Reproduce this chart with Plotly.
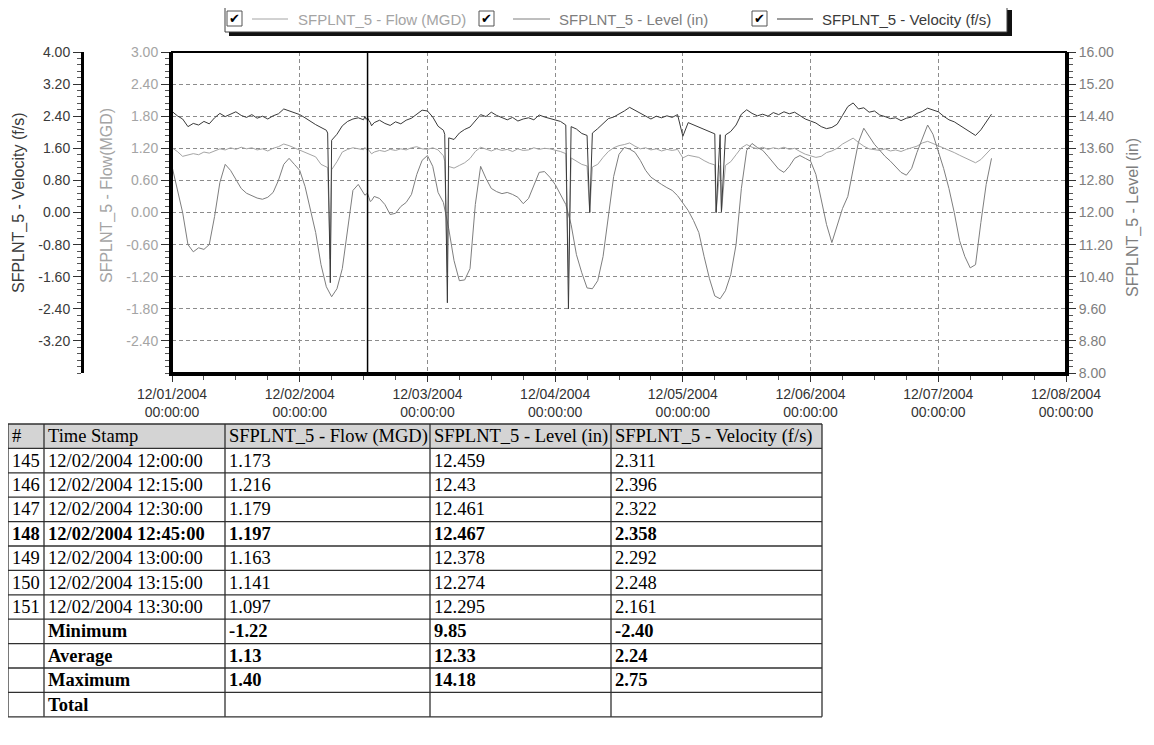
import pandas as pd
import plotly.graph_objects as go

# ---------------- data ----------------
series_start = "2004-12-01 00:00"

velocity_hourly = [
    2.52, 2.41, 2.33, 2.14, 2.22, 2.18, 2.27, 2.21, 2.36, 2.47, 2.39, 2.45, 2.51, 2.42, 2.37, 2.44, 2.35, 2.40, 2.33, 2.41, 2.46, 2.58, 2.53, 2.49,
    2.44, 2.36, 2.27, 2.19, 2.12, 2.05, 1.80, 1.95, 2.16, 2.27, 2.33, 2.36, 2.31, 2.29, 2.24, 2.30, 2.22, 2.17, 2.26, 2.21, 2.30, 2.35, 2.44, 2.55,
    2.53, 2.38, 2.15, 2.05, 1.86, 1.82, 1.98, 2.07, 2.13, 2.30, 2.44, 2.39, 2.50, 2.42, 2.36, 2.31, 2.37, 2.28, 2.33, 2.36, 2.31, 2.43, 2.38, 2.34,
    2.31, 2.27, 2.18, 2.14, 2.08, 1.97, 1.92, 1.98, 2.09, 2.22, 2.34, 2.38, 2.45, 2.53, 2.62, 2.55, 2.46, 2.39, 2.33, 2.40, 2.36, 2.41, 2.37, 2.44,
    1.90, 2.24, 2.18, 2.12, 2.06, 2.00, 1.96, 1.94, 1.93, 2.02, 2.18, 2.45, 2.56, 2.47, 2.41, 2.45, 2.40, 2.49, 2.44, 2.51, 2.46, 2.50, 2.41, 2.33,
    2.28, 2.23, 2.14, 2.09, 2.12, 2.20, 2.42, 2.64, 2.73, 2.58, 2.61, 2.50, 2.53, 2.43, 2.39, 2.34, 2.36, 2.29, 2.35, 2.38, 2.47, 2.52, 2.60, 2.56,
    2.51, 2.40, 2.31, 2.26, 2.17, 2.09, 2.00, 1.92, 2.06, 2.25, 2.45,
]

flow_hourly = [
    1.21, 1.14, 1.05, 1.07, 1.10, 1.08, 1.13, 1.11, 1.15, 1.19, 1.17, 1.21, 1.18, 1.22, 1.19, 1.21, 1.17, 1.19, 1.15, 1.20, 1.23, 1.28, 1.25, 1.21,
    1.17, 1.13, 1.09, 1.04, 0.90, 0.86, 0.80, 0.95, 1.13, 1.18, 1.21, 1.19, 1.173, 1.163, 1.13, 1.16, 1.14, 1.18, 1.16, 1.19, 1.17, 1.21, 1.23, 1.19,
    1.18, 1.21, 1.17, 1.06, 0.86, 0.83, 0.88, 0.93, 1.01, 1.14, 1.22, 1.18, 1.15, 1.19, 1.16, 1.18, 1.14, 1.19, 1.16, 1.17, 1.21, 1.18, 1.20, 1.19,
    1.17, 1.14, 1.10, 1.02, 0.96, 0.90, 0.87, 0.85, 0.90, 1.03, 1.14, 1.21, 1.25, 1.27, 1.30, 1.24, 1.19, 1.21, 1.17, 1.19, 1.15, 1.18, 1.16, 1.18,
    1.02, 1.07, 1.05, 1.03, 0.97, 0.92, 0.89, 0.88, 0.88, 0.95, 1.08, 1.21, 1.27, 1.22, 1.19, 1.22, 1.18, 1.21, 1.19, 1.22, 1.18, 1.20, 1.14, 1.09,
    1.06, 1.03, 1.05, 1.12, 1.15, 1.20, 1.28, 1.33, 1.39, 1.31, 1.24, 1.19, 1.18, 1.16, 1.19, 1.15, 1.17, 1.14, 1.18, 1.21, 1.24, 1.30, 1.33, 1.29,
    1.25, 1.20, 1.16, 1.12, 1.07, 1.02, 0.97, 0.93, 0.99, 1.10, 1.20,
]

level_hourly = [
    13.15, 12.60, 12.00, 11.20, 11.02, 11.12, 11.08, 11.20, 11.90, 12.75, 13.20, 13.05, 12.82, 12.60, 12.48, 12.42, 12.36, 12.33, 12.38, 12.50, 12.80, 13.20, 13.35, 13.20,
    13.05, 12.65, 12.05, 11.50, 10.70, 10.15, 9.90, 10.10, 10.60, 11.60, 12.55, 12.70, 12.459, 12.378, 12.40, 12.35, 12.20, 11.95, 11.98, 12.15, 12.25, 12.45, 12.95, 13.30,
    13.42, 13.15, 12.50, 12.25, 11.60, 10.80, 10.30, 10.32, 10.60, 12.20, 13.15, 12.85, 12.60, 12.52, 12.47, 12.50, 12.45, 12.38, 12.22, 12.35, 12.70, 13.00, 13.02, 12.88,
    12.70, 12.45, 12.20, 11.70, 10.95, 10.50, 10.12, 10.10, 10.30, 10.90, 11.90, 12.90, 13.45, 13.62, 13.58, 13.50, 13.30, 13.05, 12.88, 12.78, 12.70, 12.62, 12.55, 12.42,
    12.25, 12.05, 11.80, 11.50, 10.90, 10.35, 9.92, 9.85, 10.05, 10.45, 11.20, 12.60, 13.55, 13.72, 13.62, 13.55, 13.40, 13.25, 13.08, 13.00, 13.15, 13.35, 13.42, 13.35,
    13.28, 12.95, 12.30, 11.70, 11.25, 11.70, 12.10, 12.40, 13.10, 13.75, 14.10, 13.90, 13.70, 13.55, 13.40, 13.28, 13.15, 13.00, 12.93, 13.10, 13.50, 13.85, 14.18, 13.95,
    13.55, 13.10, 12.60, 12.00, 11.30, 10.90, 10.62, 10.70, 11.75, 12.70, 13.35,
]

# short sensor drop-outs (15-minute samples)
event_times = ["2004-12-02 05:15", "2004-12-02 05:30", "2004-12-02 05:45",
               "2004-12-03 03:15", "2004-12-03 03:30", "2004-12-03 03:45",
               "2004-12-04 02:15", "2004-12-04 02:30",
               "2004-12-04 06:30",
               "2004-12-05 06:15", "2004-12-05 07:15"]
event_flow = [0.84, 0.00, -0.87, 0.96, 0.00, -1.12, 0.00, -1.22, 0.00, 0.00, 0.01]
event_velocity = [1.98, 0.00, -1.75, 1.95, 0.00, -2.25, 0.00, -2.40, 0.00, 0.00, 0.02]

# table
table_rows = ["145", "146", "147", "148", "149", "150", "151"]
table_times = ["12/02/2004 12:00:00", "12/02/2004 12:15:00", "12/02/2004 12:30:00",
               "12/02/2004 12:45:00", "12/02/2004 13:00:00", "12/02/2004 13:15:00",
               "12/02/2004 13:30:00"]
table_flow = ["1.173", "1.216", "1.179", "1.197", "1.163", "1.141", "1.097"]
table_level = ["12.459", "12.43", "12.461", "12.467", "12.378", "12.274", "12.295"]
table_velocity = ["2.311", "2.396", "2.322", "2.358", "2.292", "2.248", "2.161"]
highlight_row = "148"

stat_names = ["Minimum", "Average", "Maximum", "Total"]
stat_flow = ["-1.22", "1.13", "1.40", ""]
stat_level = ["9.85", "12.33", "14.18", ""]
stat_velocity = ["-2.40", "2.24", "2.75", ""]

series_names = ["SFPLNT_5 - Flow (MGD)", "SFPLNT_5 - Level (in)", "SFPLNT_5 - Velocity (f/s)"]
axis_titles = ["SFPLNT_5 - Flow(MGD)", "SFPLNT_5 - Level (in)", "SFPLNT_5 - Velocity (f/s)"]
table_headers = ["#", "Time Stamp", "SFPLNT_5 - Flow (MGD)", "SFPLNT_5 - Level (in)", "SFPLNT_5 - Velocity (f/s)"]

flow_ticks = [3.00, 2.40, 1.80, 1.20, 0.60, 0.00, -0.60, -1.20, -1.80, -2.40]
level_ticks = [16.00, 15.20, 14.40, 13.60, 12.80, 12.00, 11.20, 10.40, 9.60, 8.80, 8.00]
velocity_ticks = [4.00, 3.20, 2.40, 1.60, 0.80, 0.00, -0.80, -1.60, -2.40, -3.20]
day_ticks = ["2004-12-01", "2004-12-02", "2004-12-03", "2004-12-04",
             "2004-12-05", "2004-12-06", "2004-12-07", "2004-12-08"]

# ---------------- styling ----------------
PAGE_W, PAGE_H, BODY = 1154, 745, 8          # window size and the page's default body margin
W, H = PAGE_W - BODY, PAGE_H - BODY
C_FLOW, C_LEVEL, C_VEL = "#a4a4a4", "#7e7e7e", "#3a3a3a"
SANS = "Liberation Sans, Arial, sans-serif"
SERIF = "Liberation Serif, Times New Roman, serif"
PL, PR, PT, PB = 172, 1066, 52, 373
GRID = "#8c8c8c"
TABLE_COLS = [8, 44, 225, 430, 611, 822]   # column edges (window px)
TABLE_TOP, ROW_H = 424, 24.4


def px(x):
    return (x - BODY) / W


def py(y):
    return 1 - (y - BODY) / H


# ---------------- build series ----------------
hours = pd.date_range(series_start, periods=len(flow_hourly), freq="h")
ev_t = pd.to_datetime(event_times)
tab_t = pd.to_datetime(table_times, format="%m/%d/%Y %H:%M:%S")


def build(base, extras):
    parts = [pd.Series(base, index=hours)] + [pd.Series(v, index=t) for t, v in extras]
    s = pd.concat(parts)
    s = s[~s.index.duplicated(keep="last")].sort_index()
    return s


flow_s = build(flow_hourly, [(ev_t, event_flow), (tab_t, [float(v) for v in table_flow])])
vel_s = build(velocity_hourly, [(ev_t, event_velocity), (tab_t, [float(v) for v in table_velocity])])
lev_s = build(level_hourly, [(tab_t, [float(v) for v in table_level])])

cursor_time = tab_t[table_rows.index(highlight_row)]

fig = go.Figure()
fig.add_trace(go.Scatter(x=lev_s.index, y=lev_s.values, yaxis="y2", mode="lines",
                         line=dict(color=C_LEVEL, width=1), name=series_names[1]))
fig.add_trace(go.Scatter(x=flow_s.index, y=flow_s.values, yaxis="y", mode="lines",
                         line=dict(color=C_FLOW, width=1), name=series_names[0]))
fig.add_trace(go.Scatter(x=vel_s.index, y=vel_s.values, yaxis="y3", mode="lines",
                         line=dict(color=C_VEL, width=1), name=series_names[2]))


def fmt(v):
    return f"{v:.2f}"


fig.update_layout(
    width=W, height=H, margin=dict(l=0, r=0, t=0, b=0, autoexpand=False),
    paper_bgcolor="white", plot_bgcolor="white", showlegend=False,
    font=dict(family=SANS, size=14, color="#333333"),
    xaxis=dict(domain=[px(PL), px(PR)], type="date", range=[day_ticks[0], day_ticks[-1]],
               tickmode="array", tickvals=day_ticks,
               ticktext=[pd.Timestamp(d).strftime("%m/%d/%Y") + "<br>00:00:00" for d in day_ticks],
               showgrid=True, gridcolor=GRID, griddash="4px,3px", gridwidth=1,
               showline=True, linecolor="black", linewidth=3, ticks="outside", ticklen=6,
               tickcolor="#333", tickwidth=1, tickfont=dict(size=14, color="#333"),
               minor=dict(tickmode="linear", tick0=day_ticks[0], dtick=6 * 3600 * 1000,
                          ticks="outside", ticklen=4, tickcolor="#555", showgrid=False),
               zeroline=False, fixedrange=True, automargin=False),
    yaxis=dict(domain=[py(PB), py(PT)], range=[-3, 3], tickmode="array", tickvals=flow_ticks,
               ticktext=[fmt(v) for v in flow_ticks], showgrid=True, gridcolor=GRID,
               griddash="4px,3px", gridwidth=1, showline=True, linecolor="black", linewidth=3,
               ticks="outside", ticklen=8, tickcolor="#333", tickfont=dict(size=14, color=C_FLOW),
               minor=dict(tickmode="linear", tick0=0, dtick=0.12, ticks="outside", ticklen=4,
                          tickcolor="#555", showgrid=False),
               zeroline=False, fixedrange=True, automargin=False),
    yaxis2=dict(overlaying="y", side="right", anchor="x", range=[8, 16], tickmode="array",
                tickvals=level_ticks, ticktext=[fmt(v) for v in level_ticks], showgrid=False,
                showline=True, linecolor="black", linewidth=3, ticks="outside", ticklen=7,
                tickcolor="#333", tickfont=dict(size=14, color=C_LEVEL),
                minor=dict(tickmode="linear", tick0=0, dtick=0.16, ticks="outside", ticklen=4,
                           tickcolor="#555", showgrid=False),
                zeroline=False, fixedrange=True, automargin=False),
    yaxis3=dict(overlaying="y", side="left", anchor="free", position=px(82), range=[-4, 4],
                tickmode="array", tickvals=velocity_ticks, ticktext=[fmt(v) for v in velocity_ticks],
                showgrid=False, showline=True, linecolor="black", linewidth=3, ticks="outside",
                ticklen=8, tickcolor="#333", tickfont=dict(size=14, color=C_VEL),
                minor=dict(tickmode="linear", tick0=0, dtick=0.16, ticks="outside", ticklen=4,
                           tickcolor="#555", showgrid=False),
                zeroline=False, fixedrange=True, automargin=False),
)

shapes = []
annotations = []

# plot frame
shapes.append(dict(type="rect", xref="paper", yref="paper", x0=px(PL), x1=px(PR), y0=py(PB), y1=py(PT),
                   line=dict(color="black", width=2), layer="above"))
# cursor line at the highlighted table row
shapes.append(dict(type="line", xref="x", yref="paper", x0=cursor_time, x1=cursor_time,
                   y0=py(PB), y1=py(PT), line=dict(color="black", width=1.5), layer="above"))

# axis titles
for text, xc, yc, col in [(axis_titles[2], 19, 203, C_VEL),
                          (axis_titles[0], 107, 196, C_FLOW),
                          (axis_titles[1], 1133, 218, C_LEVEL)]:
    annotations.append(dict(text=text, x=px(xc), y=py(yc), xref="paper", yref="paper",
                            xanchor="center", yanchor="middle", textangle=-90, showarrow=False,
                            font=dict(size=16, color=col)))

# legend box with shadow
LY = 19
shapes.append(dict(type="rect", xref="paper", yref="paper", x0=px(229), x1=px(1012), y0=py(LY + 17), y1=py(LY - 9),
                   fillcolor="#111111", line=dict(width=0)))
shapes.append(dict(type="rect", xref="paper", yref="paper", x0=px(225), x1=px(1007), y0=py(LY + 13), y1=py(LY - 13),
                   fillcolor="white", line=dict(color="#404040", width=1)))

legend_items = [
    (227, 252, 288, 296, series_names[0], C_FLOW),
    (479, 513, 550, 557, series_names[1], C_LEVEL),
    (752, 777, 813, 820, series_names[2], C_VEL),
]
for cb_x, l0, l1, tx, name, col in legend_items:
    shapes.append(dict(type="rect", xref="paper", yref="paper", x0=px(cb_x), x1=px(cb_x + 15),
                       y0=py(LY + 7), y1=py(LY - 8), fillcolor="white",
                       line=dict(color="#555555", width=1)))
    annotations.append(dict(text="✔", x=px(cb_x + 7.5), y=py(LY - 0.5), xref="paper", yref="paper",
                            xanchor="center", yanchor="middle", showarrow=False,
                            font=dict(family="DejaVu Sans", size=13, color="black")))
    shapes.append(dict(type="line", xref="paper", yref="paper", x0=px(l0), x1=px(l1),
                       y0=py(LY), y1=py(LY), line=dict(color=col, width=1)))
    annotations.append(dict(text=name, x=px(tx), y=py(LY), xref="paper", yref="paper",
                            xanchor="left", yanchor="middle", showarrow=False,
                            font=dict(size=15, color=col)))

# ---------------- table (drawn as cells) ----------------
columns = [
    [table_headers[0]] + list(table_rows) + ["" for _ in stat_names],
    [table_headers[1]] + list(table_times) + list(stat_names),
    [table_headers[2]] + list(table_flow) + list(stat_flow),
    [table_headers[3]] + list(table_level) + list(stat_level),
    [table_headers[4]] + list(table_velocity) + list(stat_velocity),
]
bold_rows = [False] + [r == highlight_row for r in table_rows] + [True for _ in stat_names]
n_rows = len(columns[0])
table_bottom = TABLE_TOP + n_rows * ROW_H

shapes.append(dict(type="rect", xref="paper", yref="paper", x0=px(TABLE_COLS[0]), x1=px(TABLE_COLS[-1]),
                   y0=py(TABLE_TOP + ROW_H), y1=py(TABLE_TOP), fillcolor="#d4d4d4",
                   line=dict(width=0), layer="below"))
for i in range(n_rows + 1):
    yy = TABLE_TOP + i * ROW_H
    shapes.append(dict(type="line", xref="paper", yref="paper", x0=px(TABLE_COLS[0]), x1=px(TABLE_COLS[-1]),
                       y0=py(yy), y1=py(yy), line=dict(color="#303030", width=1.3)))
for xx in TABLE_COLS:
    shapes.append(dict(type="line", xref="paper", yref="paper", x0=px(xx), x1=px(xx),
                       y0=py(TABLE_TOP), y1=py(table_bottom), line=dict(color="#303030", width=1.3)))
for c, col_vals in enumerate(columns):
    for r, val in enumerate(col_vals):
        if val == "":
            continue
        txt = f"<b>{val}</b>" if bold_rows[r] else val
        annotations.append(dict(text=txt, x=px(TABLE_COLS[c] + 1.5), y=py(TABLE_TOP + (r + 0.5) * ROW_H),
                                xref="paper", yref="paper", xanchor="left", yanchor="middle",
                                showarrow=False, font=dict(family=SERIF, size=18.5, color="black")))

fig.update_layout(shapes=shapes, annotations=annotations)

fig.write_html("out.html")
